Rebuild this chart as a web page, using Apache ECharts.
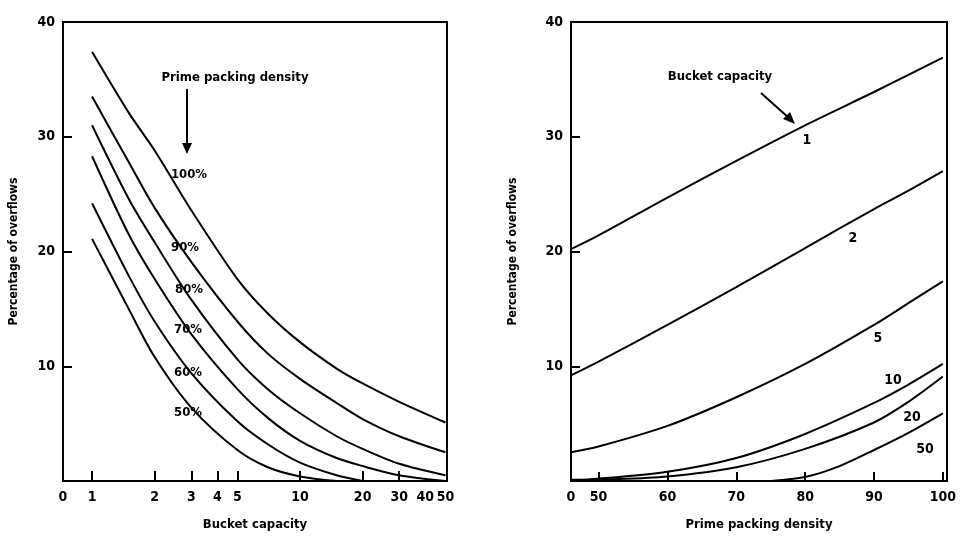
<!DOCTYPE html>
<html>
<head>
<meta charset="utf-8">
<script src="https://cdn.jsdelivr.net/npm/echarts@6/dist/echarts.min.js"></script>
<style>
html,body{margin:0;padding:0;background:#fff;}
#chart{width:966px;height:538px;}
</style>
</head>
<body>
<div id="chart"></div>
<script>
// ---------- Left panel: % overflows vs bucket capacity (log x) ----------
const bucketCapacity = [1, 1.5, 2, 3, 5, 7, 10, 15, 20, 30, 50];
const density100 = [37.4, 32.1, 28.8, 23.6, 17.6, 14.6, 12.1, 9.8, 8.5, 6.9, 5.1];
const density90  = [33.5, 27.8, 23.8, 19.1, 13.9, 11.1, 8.9, 6.8, 5.4, 3.9, 2.5];
const density80  = [31.0, 24.6, 20.8, 15.8, 10.6, 8.0, 5.9, 3.9, 2.8, 1.5, 0.5];
const density70  = [28.3, 21.5, 17.6, 12.8, 8.0, 5.5, 3.5, 2.0, 1.3, 0.5, 0];
const density60  = [24.2, 17.9, 13.9, 9.4, 5.2, 3.2, 1.6, 0.5, 0, null, null];
const density50  = [21.1, 15.0, 10.8, 6.4, 2.7, 1.2, 0.4, 0, null, null, null];
const leftTickLabels = [1, 2, 3, 4, 5, 10, 20, 30, 40, 50];
const leftTickMarks = [1, 2, 3, 4, 5, 10, 20, 30];
const densityLabels = ['100%', '90%', '80%', '70%', '60%', '50%'];

// ---------- Right panel: % overflows vs prime packing density ----------
const packingDensity = [46, 50, 60, 70, 80, 90, 95, 100];
const capacity1  = [20.2, 21.4, 24.7, 27.9, 31.0, 33.9, 35.4, 36.9];
const capacity2  = [9.2, 10.4, 13.6, 16.9, 20.3, 23.7, 25.3, 27.0];
const capacity5  = [2.5, 3.0, 4.8, 7.3, 10.2, 13.6, 15.5, 17.4];
const capacity10 = [0.1, 0.2, 0.8, 2.0, 4.1, 6.8, 8.4, 10.2];
const capacity20 = [0, 0.1, 0.4, 1.2, 2.8, 5.1, 6.9, 9.1];
const packingDensity50 = [75, 80, 85, 90, 95, 100];
const capacity50 = [0, 0.35, 1.3, 2.7, 4.2, 5.9];
const rightTickValues = [50, 60, 70, 80, 90, 100];
const capacityLabels = ['1', '2', '5', '10', '20', '50'];

const yTickValues = [10, 20, 30];
const yLabelValues = [10, 20, 30, 40];

const FONT = '"Liberation Sans Narrow","DejaVu Sans Condensed","Roboto Condensed","Liberation Sans",Arial,sans-serif';
const LOG_MIN = Math.log10(0.725);
const LOG_MAX = Math.log10(50.9);
const R_MIN = 46;
const R_MAX = 100.6;

function pairs(xs, ys, tf) {
  const out = [];
  for (let i = 0; i < xs.length; i++) {
    if (ys[i] === null || ys[i] === undefined) continue;
    out.push([tf ? tf(xs[i]) : xs[i], ys[i]]);
  }
  return out;
}
const lg = v => Math.log10(v);

function lineSeries(data, xi) {
  return {
    type: 'line', xAxisIndex: xi, yAxisIndex: xi, data: data,
    showSymbol: false, smooth: 0.3, silent: true,
    lineStyle: { color: '#000', width: 2 }, z: 3
  };
}

const labelStyle = { color: '#000', fontFamily: FONT, fontWeight: 'bold', fontSize: 14 };

function yAxis(gi, gap) {
  return {
    type: 'value', gridIndex: gi, min: 0, max: 40,
    name: 'Percentage of overflows', nameLocation: 'middle', nameGap: gap, nameRotate: 90,
    nameTextStyle: { color: '#000', fontFamily: FONT, fontWeight: 'bold', fontSize: 12 },
    axisLine: { show: true, onZero: false, lineStyle: { color: '#000', width: 2 } },
    axisTick: { show: true, inside: true, length: 9, customValues: yTickValues, lineStyle: { color: '#000', width: 2 } },
    axisLabel: Object.assign({ customValues: yLabelValues, margin: 8 }, labelStyle),
    splitLine: { show: false }
  };
}

const series = [];
[density100, density90, density80, density70, density60, density50].forEach(arr => {
  series.push(lineSeries(pairs(bucketCapacity, arr, lg), 0));
});
[capacity1, capacity2, capacity5, capacity10, capacity20].forEach(arr => {
  series.push(lineSeries(pairs(packingDensity, arr), 1));
});
series.push(lineSeries(pairs(packingDensity50, capacity50), 1));

function txt(text, x, y, size, align) {
  return {
    type: 'text', z: 10, silent: true,
    style: { text: text, x: x, y: y, fill: '#000', font: 'bold ' + size + 'px ' + FONT,
             textAlign: align || 'center', textVerticalAlign: 'middle' }
  };
}

const leftLabelPos = [[189, 175], [185, 248], [189, 290], [188, 330], [188, 373], [188, 413]];
const rightLabelPos = [[807, 140], [853, 238], [878, 338], [893, 380], [912, 417], [925, 449]];

const graphics = [
  txt('Prime packing density', 235, 78, 13),
  { type: 'line', silent: true, shape: { x1: 187, y1: 89, x2: 187, y2: 146 }, style: { stroke: '#000', lineWidth: 2 } },
  { type: 'polygon', silent: true, shape: { points: [[182, 143], [192, 143], [187, 154]] }, style: { fill: '#000' } },
  txt('Bucket capacity', 720, 77, 13),
  { type: 'line', silent: true, shape: { x1: 761, y1: 93, x2: 789, y2: 118 }, style: { stroke: '#000', lineWidth: 2 } },
  { type: 'polygon', silent: true, shape: { points: [[783, 119], [790, 112], [795, 124]] }, style: { fill: '#000' } }
];
densityLabels.forEach((t, i) => graphics.push(txt(t, leftLabelPos[i][0], leftLabelPos[i][1], 13)));
capacityLabels.forEach((t, i) => graphics.push(txt(t, rightLabelPos[i][0], rightLabelPos[i][1], 14)));

const option = {
  animation: false,
  backgroundColor: '#fff',
  grid: [
    { left: 63, top: 22, width: 384, height: 459, show: true, borderColor: '#000', borderWidth: 2, backgroundColor: 'transparent' },
    { left: 571, top: 22, width: 376, height: 459, show: true, borderColor: '#000', borderWidth: 2, backgroundColor: 'transparent' }
  ],
  xAxis: [
    {
      type: 'value', gridIndex: 0, min: LOG_MIN, max: LOG_MAX,
      name: 'Bucket capacity', nameLocation: 'middle', nameGap: 37,
      nameTextStyle: { color: '#000', fontFamily: FONT, fontWeight: 'bold', fontSize: 13 },
      axisLine: { show: true, onZero: false, lineStyle: { color: '#000', width: 2 } },
      axisTick: { show: true, inside: true, length: 10, customValues: leftTickMarks.map(lg), lineStyle: { color: '#000', width: 2 } },
      axisLabel: Object.assign({
        customValues: [LOG_MIN + 1e-7].concat(leftTickLabels.map(lg)),
        margin: 9,
        formatter: function (v) { return v < 0 ? '0' : String(Math.round(Math.pow(10, v))); }
      }, labelStyle),
      splitLine: { show: false }
    },
    {
      type: 'value', gridIndex: 1, min: R_MIN, max: R_MAX,
      name: 'Prime packing density', nameLocation: 'middle', nameGap: 37,
      nameTextStyle: { color: '#000', fontFamily: FONT, fontWeight: 'bold', fontSize: 13 },
      axisLine: { show: true, onZero: false, lineStyle: { color: '#000', width: 2 } },
      axisTick: { show: true, inside: true, length: 9, customValues: rightTickValues, lineStyle: { color: '#000', width: 2 } },
      axisLabel: Object.assign({
        customValues: [R_MIN].concat(rightTickValues),
        margin: 9,
        formatter: function (v) { return v < 48 ? '0' : String(v); }
      }, labelStyle),
      splitLine: { show: false }
    }
  ],
  yAxis: [yAxis(0, 43), yAxis(1, 52)],
  series: series,
  graphic: graphics
};

const chart = echarts.init(document.getElementById('chart'), null, { renderer: 'canvas' });
chart.setOption(option);
</script>
</body>
</html>
